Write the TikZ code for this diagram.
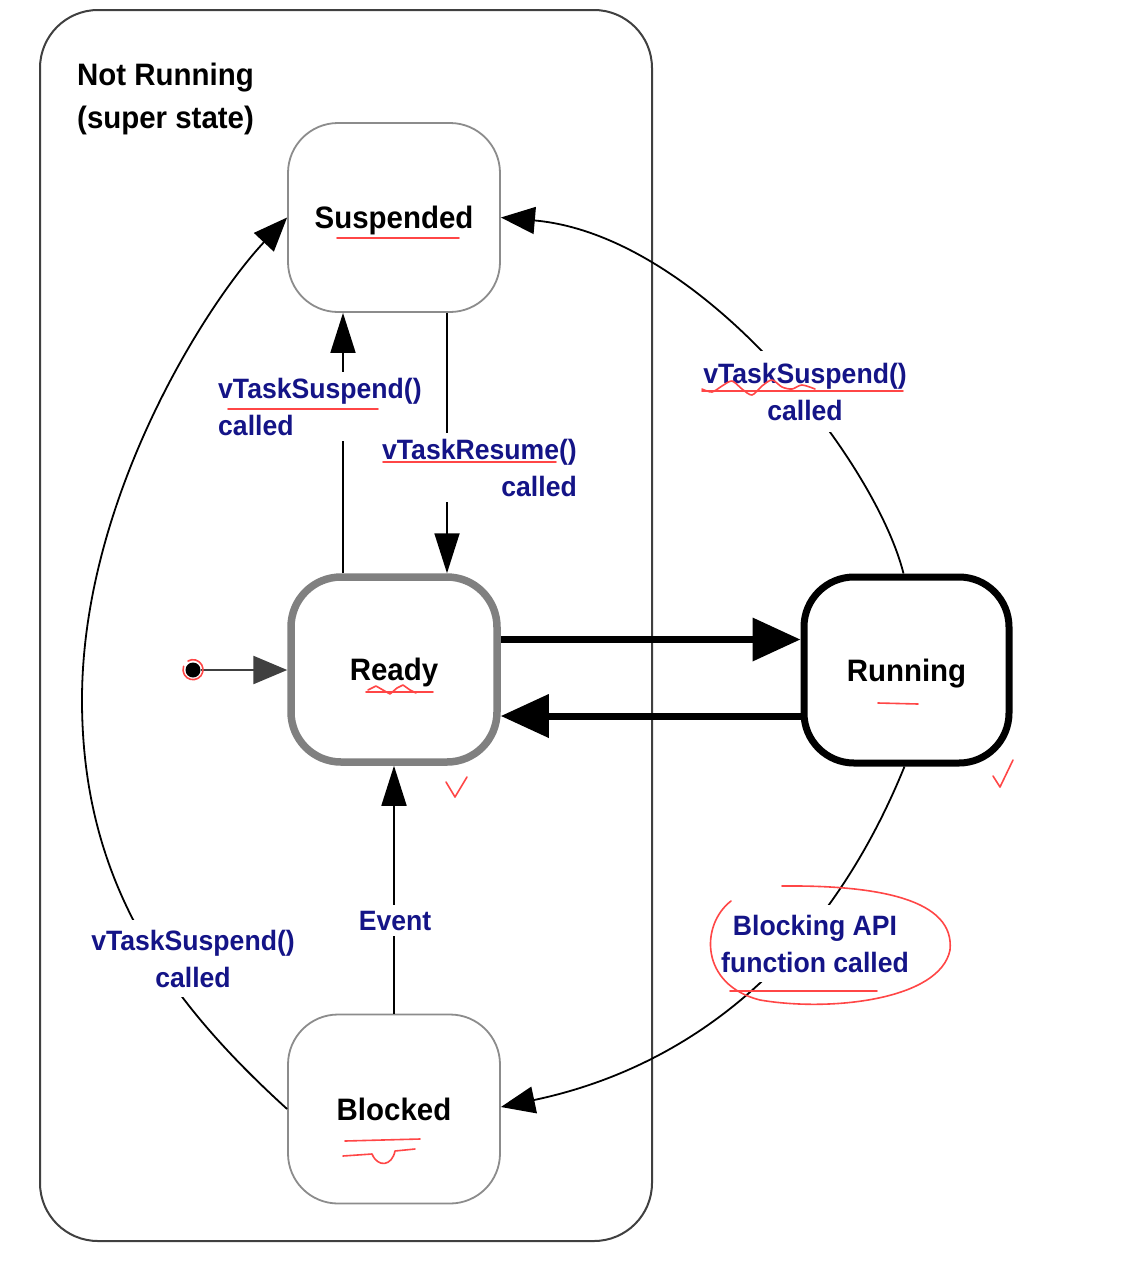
\documentclass[tikz,border=0pt]{standalone}
\usepackage{fontspec}
\setmainfont{Liberation Sans}
\newfontfamily\stfont[FakeStretch=0.95]{Liberation Sans}
\usetikzlibrary{arrows.meta}
\definecolor{labblue}{RGB}{20,20,135}
\definecolor{annot}{RGB}{255,70,70}
\newcommand\stf{\stfont\bfseries\fontsize{31}{43}\selectfont}
\newcommand\lbf{\stfont\bfseries\fontsize{28}{37}\selectfont}
\tikzset{
  superbox/.style={draw=black!75, line width=2pt, rounded corners=58pt, minimum width=612pt, minimum height=1231pt, inner sep=0pt},
  statebox/.style={draw=black!45, line width=1.8pt, rounded corners=50pt, minimum width=212pt, minimum height=189pt, fill=white, font=\stf, text height=22pt, text depth=0pt, inner sep=0pt},
  conn/.style={draw=black, line width=1.8pt},
  thintip/.style={-{Triangle[length=34pt,width=27pt]}},
  verttip/.style={-{Triangle[length=40pt,width=25pt]}},
  bigarrow/.style={draw=black, line width=7pt, -{Triangle[length=48pt,width=42pt]}},
  lab/.style={font=\lbf, text=labblue, fill=white, inner sep=6pt},
  redmark/.style={draw=annot, line width=1.6pt, line cap=round, line join=round}
}
\begin{document}
\begin{tikzpicture}[x=1pt,y=-1pt]
\useasboundingbox (0,0) rectangle (1124,1267);
\fill[white] (0,0) rectangle (1124,1267);
% super state
\node[superbox] (super) at (346,625.5) {};
\node[anchor=base west, align=left, font=\stf, inner sep=0pt] (title) at (77,128) {Not Running\\(super state)};
% states
\node[statebox] (susp) at (394,217.5) {Suspended};
\node[statebox, draw=black!50, line width=7.5pt, minimum width=206pt, minimum height=185pt] (ready) at (394,669.5) {Ready};
\node[statebox, draw=black, line width=7pt, minimum width=205pt, minimum height=186pt] (run) at (906.5,670) {Running};
\node[statebox] (blk) at (394,1109) {Blocked};
\node[circle, fill=black, minimum size=15pt, inner sep=0pt] (init) at (193,670) {};
% connectors
\draw[draw=black!75, line width=2.5pt, -{Triangle[length=34pt,width=28pt]}] (init) -- (init -| ready.west);
\draw[bigarrow] ([yshift=30pt]ready.east) -- ([yshift=30pt]ready.east -| run.west);
\draw[bigarrow] ([yshift=-46pt]run.west) -- ([yshift=-46pt]run.west -| ready.east);
\draw[conn, verttip] ([xshift=-51pt]ready.north) -- ([xshift=-51pt]ready.north |- susp.south);
\draw[conn, verttip] ([xshift=53pt]susp.south) -- ([xshift=53pt]susp.south |- ready.north);
\draw[conn, verttip] (blk.north) -- (ready.south);
\draw[conn, thintip] ([xshift=-3pt]run.north) .. controls (875,460) and (700,235) .. (susp.east);
\draw[conn, thintip] ([xshift=-2pt]run.south) .. controls (830,950) and (700,1065) .. ([yshift=2pt]blk.east);
\draw[conn, thintip] (blk.west) .. controls (165,998) and (82,880) .. (82,700) .. controls (82,500) and (205,305) .. (susp.west);
% labels
\node[lab, anchor=base west, align=left] (l1) at (212,435) {vTaskSuspend()\\called};
\node[lab, anchor=base east, align=right] (l2) at (583,496) {vTaskResume()\\called};
\node[lab, anchor=base] (l3) at (395,930) {Event};
\node[lab, anchor=base, align=center, inner ysep=10pt] (l4) at (193,987) {vTaskSuspend()\\called};
\node[lab, anchor=base, align=center, inner ysep=12pt] (l5) at (805,420) {vTaskSuspend()\\called};
\node[lab, anchor=base, align=center, inner ysep=10pt] (l6) at (815,972) {Blocking API\\function called};
% hand-drawn red marks
\draw[redmark] (337,238) -- (459,238);
\draw[redmark] (228,409) -- (378,409);
\draw[redmark] (383,462) -- (556,462);
\draw[redmark] (702,391) -- (903,391);
\draw[redmark] plot[smooth] coordinates {(702,389) (712,392) (722,386) (732,381) (742,389) (752,395) (762,386) (772,380) (782,387) (792,389) (802,385) (815,389)};
\draw[redmark] (366,692) -- (433,692);
\draw[redmark] plot coordinates {(368,690) (376,686) (383,690) (390,694) (397,688) (403,685) (410,690) (416,693)};
\draw[redmark] (878,703) -- (918,704);
\draw[redmark] (446,782) -- (455,797) -- (467,777);
\draw[redmark] (993,776) -- (1000,787) -- (1013,760);
\draw[redmark] (188,661) arc[start angle=120, end angle=-200, radius=10pt];
\draw[redmark] (345,1141) -- (420,1139);
\draw[redmark] (343,1156) -- (372,1154) .. controls (378,1168) and (392,1166) .. (395,1151) -- (415,1149);
\draw[redmark] (731,901) .. controls (700,925) and (700,985) .. (760,1000) .. controls (830,1012) and (940,1000) .. (950,950) .. controls (955,900) and (880,885) .. (782,886);
\draw[redmark] (730,991) -- (877,991);
\end{tikzpicture}
\end{document}
